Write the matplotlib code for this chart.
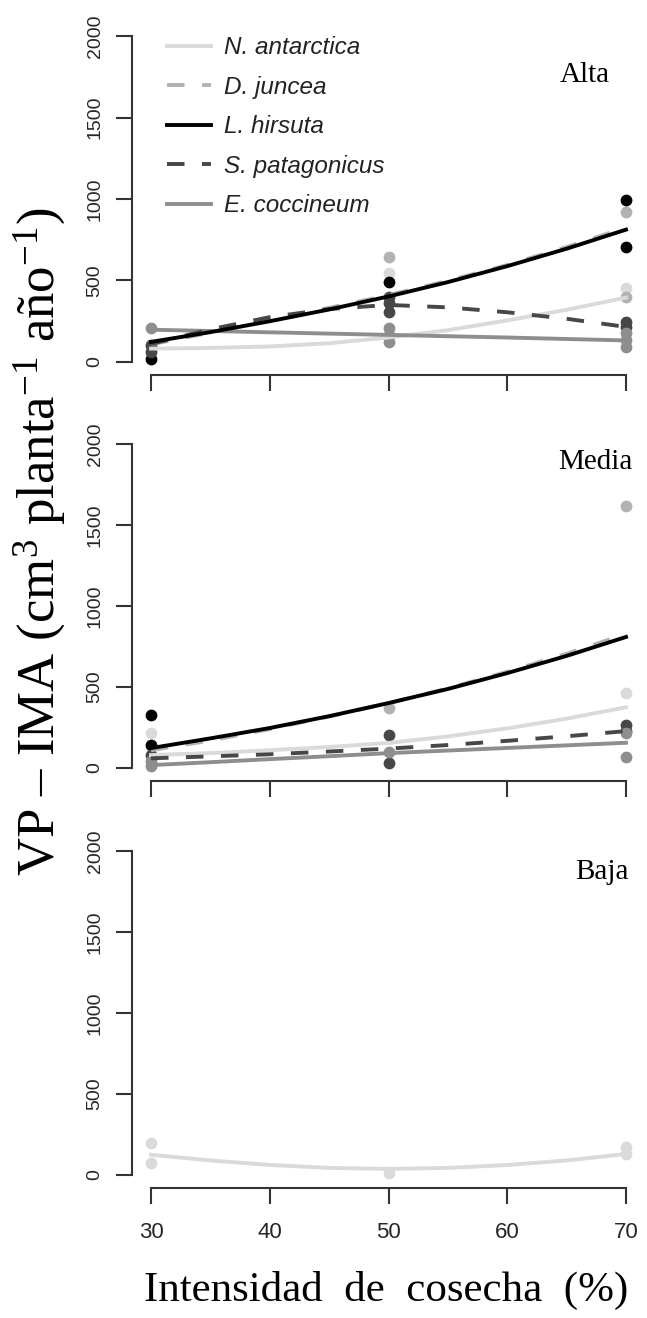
import matplotlib
matplotlib.use('Agg')
import matplotlib.pyplot as plt
from matplotlib.lines import Line2D

plt.rcParams['font.family'] = 'Liberation Sans'
plt.rcParams['mathtext.fontset'] = 'custom'
plt.rcParams['mathtext.rm'] = 'Liberation Serif'
plt.rcParams['mathtext.it'] = 'Liberation Serif:italic'

# species, legend order
species = ['N. antarctica', 'D. juncea', 'L. hirsuta', 'S. patagonicus', 'E. coccineum']
colors = {'N. antarctica': '#dadada', 'D. juncea': '#b2b2b2', 'L. hirsuta': '#000000',
          'S. patagonicus': '#474747', 'E. coccineum': '#8e8e8e'}
dashed = ['D. juncea', 'S. patagonicus']

xticks = [30, 40, 50, 60, 70]
yticks = [0, 500, 1000, 1500, 2000]
panels = ['Alta', 'Media', 'Baja']

# fitted curves, values every 5 %
curve_x = [30, 35, 40, 45, 50, 55, 60, 65, 70]
alta_curves = {
    'N. antarctica': [82, 86, 95, 115, 150, 195, 255, 320, 395],
    'D. juncea': [108, 180, 255, 332, 410, 498, 595, 705, 825],
    'E. coccineum': [198, 190, 182, 174, 166, 158, 150, 141, 132],
    'S. patagonicus': [110, 200, 275, 325, 350, 335, 305, 265, 215],
    'L. hirsuta': [123, 183, 250, 322, 402, 490, 588, 695, 812],
}
media_curves = {
    'N. antarctica': [80, 92, 110, 130, 155, 195, 245, 305, 375],
    'D. juncea': [110, 170, 240, 318, 400, 492, 594, 705, 828],
    'E. coccineum': [18, 36, 55, 73, 92, 108, 124, 140, 156],
    'S. patagonicus': [60, 72, 85, 102, 120, 142, 168, 196, 228],
    'L. hirsuta': [123, 183, 247, 320, 401, 488, 586, 692, 809],
}
baja_curves = {
    'N. antarctica': [125, 90, 62, 44, 38, 44, 62, 90, 130],
}

# observed points
alta_px = {'N. antarctica': [30, 50, 70], 'D. juncea': [30, 50, 70, 70],
           'L. hirsuta': [30, 50, 70, 70], 'S. patagonicus': [30, 30, 50, 50, 50, 70, 70],
           'E. coccineum': [30, 50, 50, 50, 70, 70, 70]}
alta_py = {'N. antarctica': [75, 546, 454], 'D. juncea': [95, 644, 920, 399],
           'L. hirsuta': [18, 491, 994, 706], 'S. patagonicus': [60, 105, 399, 362, 307, 245, 215],
           'E. coccineum': [209, 209, 166, 123, 178, 135, 92]}
media_px = {'N. antarctica': [30, 70], 'D. juncea': [50, 70], 'L. hirsuta': [30, 30],
            'S. patagonicus': [30, 50, 50, 70, 70], 'E. coccineum': [30, 30, 50, 70, 70]}
media_py = {'N. antarctica': [216, 463], 'D. juncea': [370, 1620], 'L. hirsuta': [327, 142],
            'S. patagonicus': [80, 204, 31, 265, 230], 'E. coccineum': [45, 10, 99, 216, 68]}
baja_px = {'N. antarctica': [30, 30, 50, 70, 70]}
baja_py = {'N. antarctica': [198, 74, 12, 173, 130]}

curves = [alta_curves, media_curves, baja_curves]
pts_x = [alta_px, media_px, baja_px]
pts_y = [alta_py, media_py, baja_py]

fig = plt.figure(figsize=(6.47, 13.18), dpi=100)
W, H = 647, 1318
# axes boxes in pixels: top, bottom
boxes = [(23, 375), (431, 781), (838, 1188)]
left, right = 132, 645
label_pos = [(585, 75), (595, 462), (602, 872)]

for i, (top, bot) in enumerate(boxes):
    ax = fig.add_axes([left / W, 1 - bot / H, (right - left) / W, (bot - top) / H])
    for sp in species:
        if sp in pts_x[i]:
            ax.scatter(pts_x[i][sp], pts_y[i][sp], s=72, color=colors[sp], linewidths=0, zorder=2)
    for sp, vals in curves[i].items():
        ls = (0, (4.5, 4.5)) if sp in dashed else '-'
        ax.plot(curve_x, vals, color=colors[sp], lw=2.8, ls=ls, zorder=3)

    ax.set_xlim(28.4, 71.6)
    ax.set_ylim(-80, 2080)
    for s in ['top', 'right']:
        ax.spines[s].set_visible(False)
    ax.spines['left'].set_bounds(0, 2000)
    ax.spines['bottom'].set_bounds(30, 70)
    for s in ['left', 'bottom']:
        ax.spines[s].set_color('#333333')
        ax.spines[s].set_linewidth(1.5)
    ax.set_xticks(xticks)
    ax.set_yticks(yticks, [str(v) for v in yticks], rotation=90, va='center')
    ax.tick_params(length=11.5, width=1.5, color='#333333', labelcolor='#262626')
    ax.tick_params(axis='y', labelsize=14, pad=9)
    ax.tick_params(axis='x', labelsize=16, pad=13)
    if i < 2:
        ax.tick_params(axis='x', labelbottom=False)
    fig.text(label_pos[i][0] / W, 1 - label_pos[i][1] / H, panels[i],
             family='Liberation Serif', fontsize=21, ha='center', va='center')

    if i == 0:
        handles = [Line2D([], [], color=colors[sp], lw=2.8,
                          ls=(0, (4.5, 4.5)) if sp in dashed else '-') for sp in species]
        ax.legend(handles, species, loc='upper left', bbox_to_anchor=(155 / W, 1 - 24 / H),
                  bbox_transform=fig.transFigure, frameon=False, borderpad=0,
                  handlelength=1.8, handletextpad=0.55, labelspacing=0.68,
                  prop={'style': 'italic', 'size': 17.5}, labelcolor='#222222')

fig.text(40 / W, 1 - 542 / H, 'VP – IMA (cm$^{3}$ planta$^{-1}$ año$^{-1}$)',
         family='Liberation Serif', fontsize=38, rotation=90, ha='center', va='center')
fig.text(386 / W, 1 - 1290 / H, 'Intensidad  de  cosecha  (%)',
         family='Liberation Serif', fontsize=31, ha='center', va='center')

fig.savefig('out.png', dpi=100)
